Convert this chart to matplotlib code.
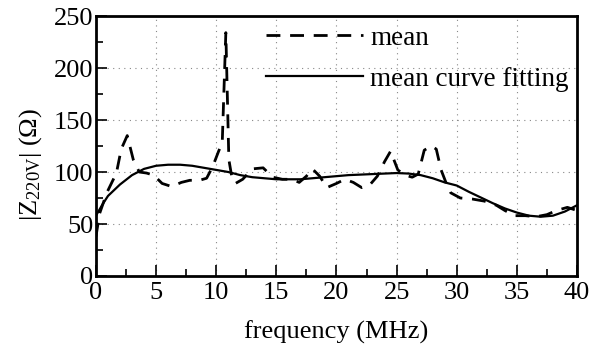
import matplotlib
matplotlib.use("Agg")
import matplotlib.pyplot as plt
from matplotlib.ticker import MultipleLocator

plt.rcParams['font.family'] = ['Liberation Serif', 'DejaVu Serif']
plt.rcParams['mathtext.fontset'] = 'custom'
plt.rcParams['mathtext.rm'] = 'Liberation Serif'
plt.rcParams['mathtext.it'] = 'Liberation Serif:italic'

# mean (dashed)
mean_f = [0, 0.3, 0.9, 1.7, 2.1, 2.6, 3.1, 3.6, 4.2, 4.8, 5.5, 6.3, 7.1, 7.8, 8.6, 9.2,
          9.7, 10.2, 10.5, 10.8, 11.05, 11.3, 11.6, 12.2, 13.0, 13.9, 14.7, 15.5, 16.3,
          16.9, 17.5, 18.0, 18.6, 19.2, 20.0, 20.7, 21.4, 22.1, 22.8, 23.4, 24.0, 24.5,
          25.1, 25.7, 26.3, 26.8, 27.3, 27.9, 28.3, 28.7, 29.1, 29.5, 30.3, 31.3, 32.3,
          33.3, 34.0, 34.8, 35.7, 36.6, 37.5, 38.3, 39.2, 40.0]
mean_v = [38, 60, 80, 99, 122, 135, 112, 100, 99, 97, 89, 86, 90, 92, 92, 94,
          105, 120, 128, 234, 112, 95, 89, 93, 103, 104, 95, 93, 93,
          90, 96, 103, 96, 85, 89, 93, 90, 85, 88, 96, 110, 120,
          102, 97, 95, 98, 121, 125, 122, 102, 90, 80, 75, 74, 72,
          68, 63, 58, 58, 57, 59, 63, 66, 63]

# mean curve fitting (solid)
fit_f = [0, 0.5, 1, 2, 3, 4, 5, 6, 7, 8, 9, 10, 11, 12, 13, 14, 15, 16, 17, 18, 19, 20,
         21, 22, 23, 24, 25, 26, 27, 28, 29, 30, 31, 32, 33, 34, 35, 36, 37, 38, 39, 40]
fit_v = [58, 68, 77, 88, 97, 103, 106, 107, 107, 106, 104, 102, 100, 97, 95, 94, 93, 93,
         93, 94, 95, 96, 97, 97.5, 98, 98.5, 99, 98.5, 97, 94, 90, 87, 81, 75.5, 70, 65,
         61, 58, 57, 58, 62, 68]

fig = plt.figure(figsize=(5.95, 3.45), dpi=100)
ax = fig.add_axes([0.1613, 0.2, 0.8084, 0.7536])

ax.plot(mean_f, mean_v, color='black', lw=2.0, linestyle=(0, (5, 3.5)), label='mean')
ax.plot(fit_f, fit_v, color='black', lw=1.6, label='mean curve fitting')

ax.set_xlim(0, 40)
ax.set_ylim(0, 250)
ax.xaxis.set_major_locator(MultipleLocator(5))
ax.xaxis.set_minor_locator(MultipleLocator(2.5))
ax.yaxis.set_major_locator(MultipleLocator(50))
ax.yaxis.set_minor_locator(MultipleLocator(25))
ax.tick_params(which='both', direction='in', labelsize=19, width=1.2)
ax.tick_params(which='major', length=8)
ax.tick_params(which='minor', length=5)
ax.tick_params(axis='x', pad=4)
ax.tick_params(axis='y', pad=2)

ax.grid(True, which='major', color='#888888', linestyle=(0, (1, 4)), lw=0.8)
for s in ax.spines.values():
    s.set_linewidth(2.0)

ax.set_xlabel('frequency (MHz)', fontsize=19, labelpad=12)
ax.set_ylabel(r'|Z$_{\mathrm{220V}}$| (Ω)', fontsize=19)
ax.yaxis.set_label_coords(-0.108, 0.43)

leg = ax.legend(loc='upper right', frameon=False, fontsize=19.5, handlelength=3.6,
                handletextpad=0.25, labelspacing=0.6, borderaxespad=0.0,
                bbox_to_anchor=(1.005, 1.005))

fig.savefig('out.png', dpi=100)
